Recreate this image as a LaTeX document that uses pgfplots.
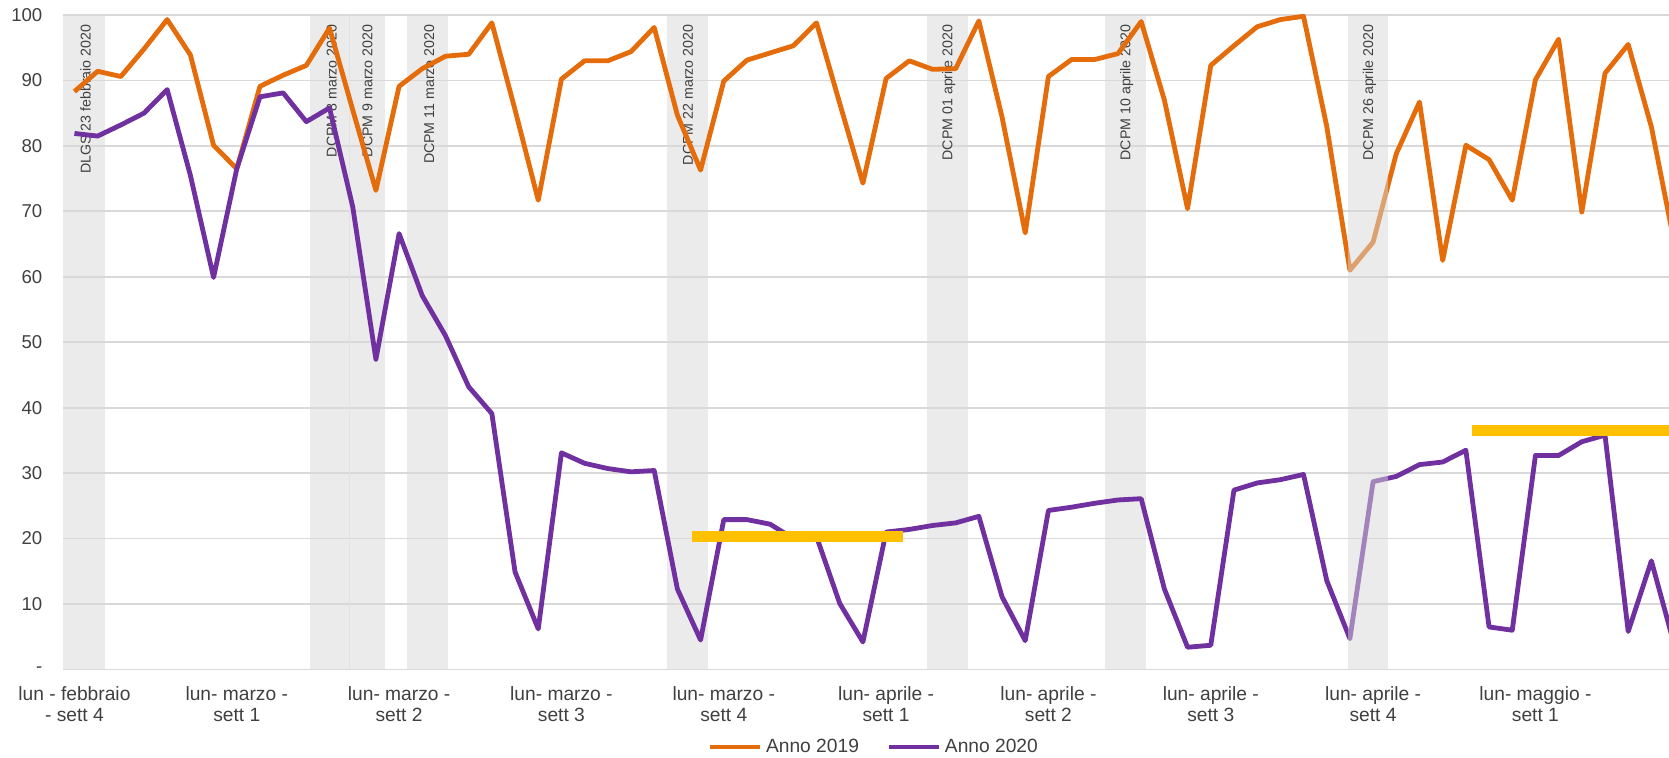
\documentclass[border=0pt]{standalone}
\usepackage{fontspec}
\setmainfont{Liberation Sans}
\usepackage{pgfplots}
\usepackage{pgfplotstable}
\pgfplotsset{compat=1.18}

\definecolor{arancio}{HTML}{E46C0A}
\definecolor{viola}{HTML}{7030A0}
\definecolor{giallo}{HTML}{FFC000}
\definecolor{fascia}{HTML}{EBEBEB}
\definecolor{fasciatop}{HTML}{D7D7D7}
\definecolor{griglia}{HTML}{D9D9D9}
\definecolor{testo}{HTML}{404040}

% giorno 0 = lunedi 24 febbraio
\pgfplotstableread{
d  a2019 a2020
0  88.3  81.9
1  91.4  81.5
2  90.6  83.2
3  94.8  85.0
4  99.3  88.6
5  93.9  75.5
6  80.1  59.9
7  76.5  76.5
8  89.1  87.5
9  90.8  88.1
10 92.3  83.7
11 98.0  85.8
12 85.5  70.7
13 73.2  47.4
14 89.1  66.6
15 91.8  57.1
16 93.7  51.0
17 94.0  43.2
18 98.8  39.1
19 85.5  14.9
20 71.7  6.2
21 90.2  33.1
22 93.0  31.5
23 93.0  30.7
24 94.4  30.2
25 98.1  30.4
26 84.7  12.3
27 76.3  4.5
28 89.9  22.9
29 93.1  22.9
30 94.2  22.2
31 95.3  20.0
32 98.8  20.3
33 86.5  10.1
34 74.3  4.2
35 90.3  21.0
36 93.0  21.4
37 91.7  22.0
38 91.8  22.4
39 99.1  23.4
40 84.4  11.1
41 66.7  4.4
42 90.6  24.3
43 93.2  24.8
44 93.2  25.4
45 94.1  25.9
46 99.0  26.1
47 87.0  12.3
48 70.4  3.4
49 92.3  3.7
50 95.3  27.4
51 98.2  28.5
52 99.3  29.0
53 99.8  29.8
54 83.0  13.6
55 61.0  4.7
56 65.3  28.7
57 78.8  29.5
58 86.7  31.3
59 62.5  31.7
60 80.1  33.5
61 77.9  6.5
62 71.7  6.0
63 90.1  32.7
64 96.3  32.7
65 69.9  34.8
66 91.1  35.8
67 95.5  5.8
68 82.9  16.6
69 65.0  3.6
}\dati

\begin{document}
\begin{tikzpicture}
\begin{axis}[
    name=ax,
    set layers,
    scale only axis,
    width=802.85pt, height=327.25pt,
    xmin=-0.48, xmax=68.76,
    ymin=0, ymax=100,
    axis line style={draw=none},
    major tick length=0pt,
    ytick={0,10,...,100},
    yticklabels={-,10,20,30,40,50,60,70,80,90,100},
    ymajorgrids,
    grid style={griglia, line width=0.9pt},
    xtick={0,7,...,63},
    xticklabels={{lun - febbraio\\- sett 4},{lun- marzo -\\sett 1},{lun- marzo -\\sett 2},
        {lun- marzo -\\sett 3},{lun- marzo -\\sett 4},{lun- aprile -\\sett 1},
        {lun- aprile -\\sett 2},{lun- aprile -\\sett 3},{lun- aprile -\\sett 4},
        {lun- maggio -\\sett 1}},
    xticklabel style={align=center, font=\fontsize{9.6}{10.5}\selectfont, text=testo, yshift=-5pt},
    yticklabel style={font=\fontsize{9.3}{11}\selectfont, text=testo, inner sep=0pt, xshift=-10.3pt},
    legend style={at={(0.5055,-0.1189)}, anchor=center, draw=none, fill=none,
        legend columns=2, font=\fontsize{9.6}{11}\selectfont, text=testo,
        /tikz/every even column/.append style={column sep=12pt}},
    legend image code/.code={\draw[#1, line width=2pt] (0pt,0pt) -- (25pt,0pt);},
    every axis plot/.append style={line join=round},
]
% fasce dei decreti
\addplot[fill=fascia, draw=none, on layer=axis background, forget plot] coordinates {(-0.48,100) (1.33,100)} \closedcycle;
\addplot[fill=fascia, draw=none, on layer=axis background, forget plot] coordinates {(10.15,100) (11.87,100)} \closedcycle;
\addplot[fill=fascia, draw=none, on layer=axis background, forget plot] coordinates {(11.87,100) (13.39,100)} \closedcycle;
\addplot[fill=fascia, draw=none, on layer=axis background, forget plot] coordinates {(14.35,100) (16.12,100)} \closedcycle;
\addplot[fill=fascia, draw=none, on layer=axis background, forget plot] coordinates {(25.54,100) (27.31,100)} \closedcycle;
\addplot[fill=fascia, draw=none, on layer=axis background, forget plot] coordinates {(36.78,100) (38.55,100)} \closedcycle;
\addplot[fill=fascia, draw=none, on layer=axis background, forget plot] coordinates {(44.45,100) (46.21,100)} \closedcycle;
\addplot[draw=griglia!50!fascia, line width=0.6pt, forget plot] coordinates {(11.87,0) (11.87,100)};

\begin{scope}[every node/.style={rotate=90, anchor=east, inner sep=0pt, font=\fontsize{7.1}{8}\selectfont, text=testo}]
\node at (axis cs:0.48,98.6) {DLGS 23 febbraio 2020};
\node at (axis cs:11.09,98.6) {DCPM 8 marzo 2020};
\node at (axis cs:12.64,98.6) {DCPM 9 marzo 2020};
\node at (axis cs:15.30,98.6) {DCPM 11 marzo 2020};
\node at (axis cs:26.46,98.6) {DCPM 22 marzo 2020};
\node at (axis cs:37.70,98.6) {DCPM 01 aprile 2020};
\node at (axis cs:45.37,98.6) {DCPM 10 aprile 2020};
\end{scope}

\addplot[arancio, line width=2.4pt] table[x=d, y=a2019] {\dati};
\addlegendentry{Anno 2019}
\addplot[viola, line width=2.4pt] table[x=d, y=a2020] {\dati};
\addlegendentry{Anno 2020}

% ultima fascia, sopra le linee
\addplot[fill=fasciatop, fill opacity=0.5, draw=none, forget plot] coordinates {(54.91,100) (56.66,100)} \closedcycle;
\node[rotate=90, anchor=east, inner sep=0pt, font=\fontsize{7.1}{8}\selectfont, text=testo] at (axis cs:55.84,98.6) {DCPM 26 aprile 2020};

% medie
\addplot[giallo, line width=5.3pt, line cap=butt, forget plot] coordinates {(26.62,20.3) (35.75,20.3)};
\addplot[giallo, line width=5.3pt, line cap=butt, forget plot] coordinates {(60.27,36.5) (70,36.5)};
\end{axis}
\pgfresetboundingbox
\path[use as bounding box] ([xshift=-31.65pt,yshift=-44.25pt]ax.south west) rectangle ([yshift=7.5pt]ax.north east);
\end{tikzpicture}
\end{document}
